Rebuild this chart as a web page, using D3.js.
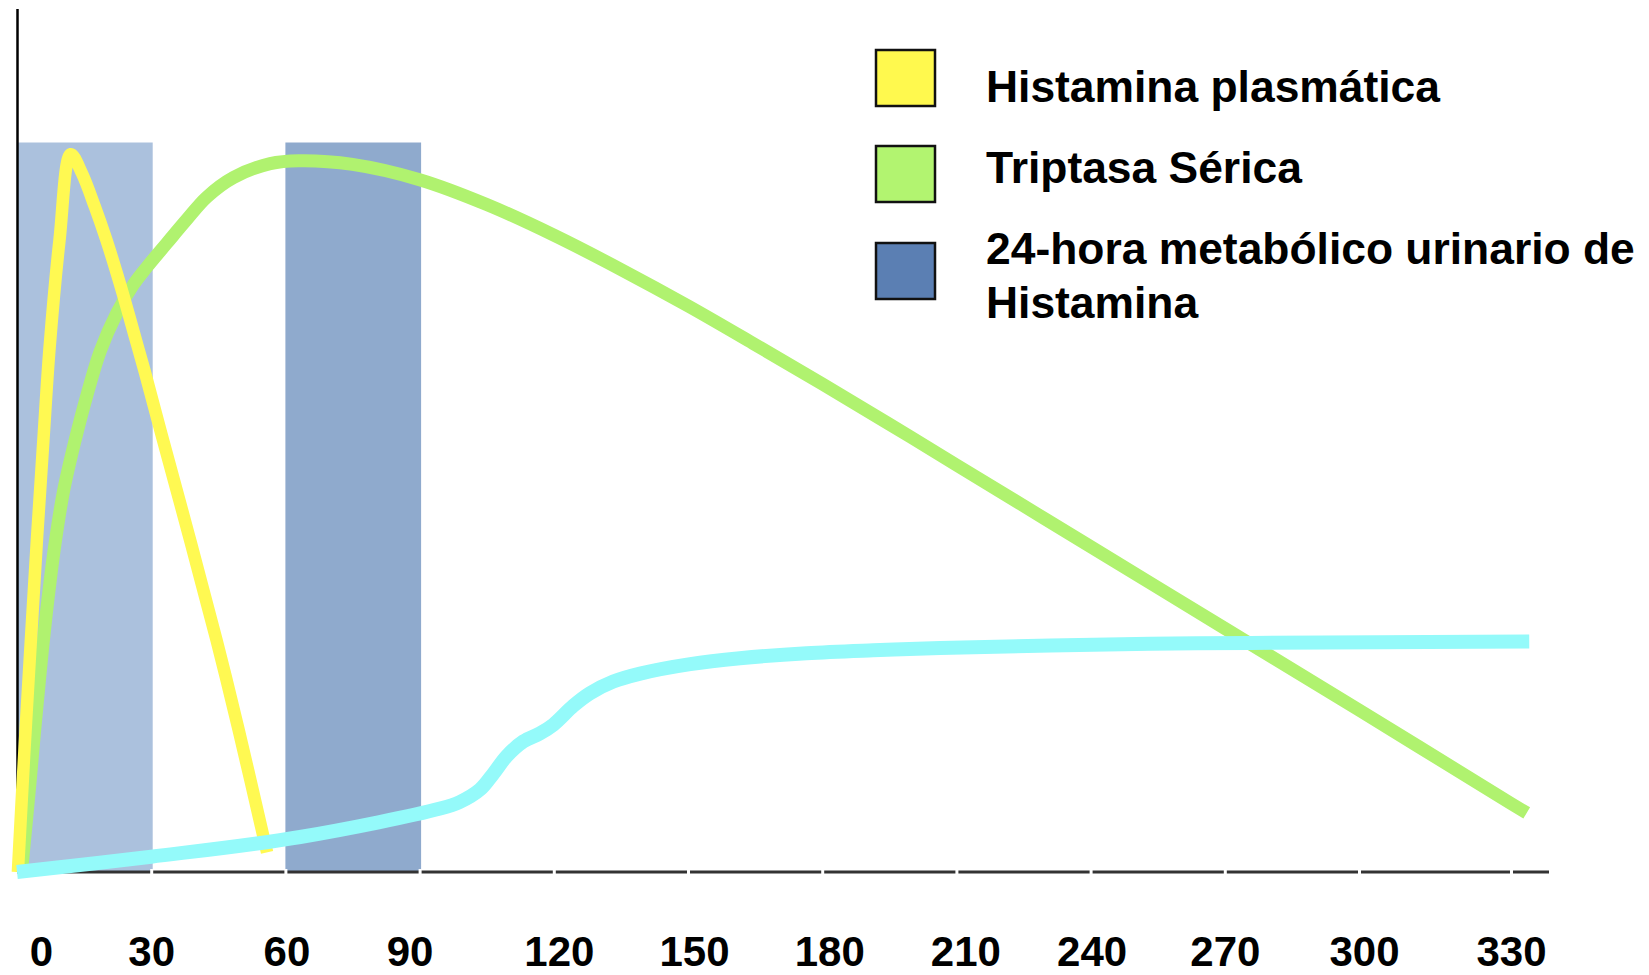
<!DOCTYPE html>
<html>
<head>
<meta charset="utf-8">
<script src="https://cdn.jsdelivr.net/npm/d3@7"></script>
<style>
  html, body { margin: 0; padding: 0; background: #fff; }
  svg { display: block; }
  text { font-family: "Liberation Sans", Arial, sans-serif; font-weight: bold; fill: #000; }
</style>
</head>
<body>
<svg id="chart" width="1649" height="975"></svg>
<script>
// ---- data ----
const xTicks = [0, 30, 60, 90, 120, 150, 180, 210, 240, 270, 300, 330];
const xTickLabels = ["0", "30", "60", "90", "120", "150", "180", "210", "240", "270", "300", "330"];

// shaded windows (time from, time to, level top)
const bandStart = [0, 60];
const bandEnd = [30, 90];
const bandTop = [100, 100];

// Histamina plasmática
const histX = [0.2, 1.6, 3.1, 4.5, 5.9, 7.3, 9.5, 12.0, 14.5, 17.4, 19.9, 22.3, 24.4, 26.4, 28.6, 32.3, 38.7, 44.6, 49.5, 55.9];
const histY = [0, 16, 31.8, 46, 59.2, 72, 86.6, 98.4, 95.8, 91.2, 86.8, 82.1, 77.7, 73.3, 68.5, 60.0, 45.5, 31.8, 19.6, 2.7];

// Triptasa Sérica
const tripX = [1, 2.9, 3.9, 4.8, 5.7, 7.0, 8.5, 10.4, 13.0, 15.6, 18.6, 22.3, 26.0, 29.0, 33.5, 37.9, 42.4, 48.4, 56.6, 63, 75, 90, 105, 120, 135, 150, 165, 180, 195, 210, 240, 270, 300, 330, 333.1];
const tripY = [0, 12.2, 19.1, 24.9, 30.6, 37.8, 45.0, 52.2, 59.2, 65.3, 71.4, 76.6, 80.5, 82.9, 86.2, 89.4, 92.5, 95.2, 97.1, 97.5, 97.0, 94.9, 91.5, 87.3, 82.6, 77.6, 72.3, 66.9, 61.4, 55.8, 44.6, 33.4, 22.2, 9.4, 8.1];

// 24-hora metabólico urinario de Histamina
const metaX = [0, 30, 63.3, 94.6, 99.0, 103.5, 106.5, 109.5, 113.2, 116.9, 119.9, 124.4, 128.1, 133.3, 139.3, 150.5, 161.6, 176.5, 191.4, 206.4, 253.3, 275.7, 333.6];
const metaY = [0, 2.1, 4.8, 8.7, 9.6, 11.3, 13.5, 15.9, 17.9, 19.0, 20.2, 22.8, 24.5, 26.1, 27.2, 28.5, 29.3, 30.0, 30.4, 30.7, 31.3, 31.4, 31.6];

const legendLabels = [["Histamina plasmática"], ["Triptasa Sérica"], ["24-hora metabólico urinario de", "Histamina"]];

// ---- drawing ----
const svg = d3.select("#chart");
const x = d3.scaleLinear().domain([0, 300, 330]).range([17, 1359, 1511]);
const y = d3.scaleLinear().domain([0, 100]).range([872, 142.5]);

const bandColors = ["#abc1dd", "#8faacd"];
svg.append("g").selectAll("rect")
  .data(bandStart.map((s, i) => ({ s, e: bandEnd[i], t: bandTop[i], c: bandColors[i] })))
  .join("rect")
  .attr("x", d => x(d.s))
  .attr("width", d => x(d.e) - x(d.s) + 1.5)
  .attr("y", d => y(d.t))
  .attr("height", d => y(0) - y(d.t))
  .attr("fill", d => d.c);

// y axis line
svg.append("line")
  .attr("x1", 17.5).attr("x2", 17.5)
  .attr("y1", 9).attr("y2", y(0))
  .attr("stroke", "#000").attr("stroke-width", 2.5);

// x axis line
svg.append("line")
  .attr("x1", 17).attr("x2", 1549)
  .attr("y1", y(0)).attr("y2", y(0))
  .attr("stroke", "#333").attr("stroke-width", 3);

// small label nudges as in the original layout (px)
const labelNudge = { 0: 24, 30: 0, 60: 1, 90: -10, 120: 5, 150: 6, 180: 7, 210: 9, 240: 1, 270: 0, 300: 5, 330: 0 };

const xAxis = d3.axisBottom(x)
  .tickValues(xTicks)
  .tickFormat((d, i) => xTickLabels[i])
  .tickSizeOuter(0);
const gx = svg.append("g").attr("transform", `translate(0,${y(0)})`).call(xAxis);
gx.select(".domain").remove();
gx.selectAll(".tick line")
  .attr("y1", -3).attr("y2", 3)
  .attr("stroke", "#fff").attr("stroke-width", 3)
  .attr("opacity", d => d === 0 ? 0 : 1);
gx.selectAll(".tick text")
  .attr("y", 94).attr("dy", 0)
  .attr("dx", d => labelNudge[d] || 0)
  .attr("font-size", 42)
  .attr("font-family", "Liberation Sans, Arial, sans-serif")
  .attr("font-weight", "bold")
  .attr("fill", "#000");

const line = d3.line().x(d => x(d[0])).y(d => y(d[1])).curve(d3.curveCatmullRom.alpha(0.5));
const series = [
  { xs: tripX, ys: tripY, color: "#b0f26f", w: 13 },
  { xs: histX, ys: histY, color: "#fff952", w: 12.5 },
  { xs: metaX, ys: metaY, color: "#94fafa", w: 14 }
];
series.forEach(s => {
  svg.append("path")
    .datum(s.xs.map((v, i) => [v, s.ys[i]]))
    .attr("d", line)
    .attr("fill", "none")
    .attr("stroke", s.color)
    .attr("stroke-width", s.w)
    .attr("stroke-linejoin", "round")
    .attr("stroke-linecap", "butt");
});

// legend
const legendColors = ["#fff94e", "#b2f470", "#5b7fb3"];
const boxTop = [50, 146, 243];
const textBase = [102, 183, 264];
const lg = svg.append("g");
legendLabels.forEach((lines, i) => {
  lg.append("rect")
    .attr("x", 876).attr("y", boxTop[i])
    .attr("width", 59).attr("height", 56)
    .attr("fill", legendColors[i])
    .attr("stroke", "#111").attr("stroke-width", 2.5);
  lines.forEach((t, j) => {
    lg.append("text")
      .attr("x", 986).attr("y", textBase[i] + j * 54)
      .attr("font-size", 44.4)
      .text(t);
  });
});
</script>
</body>
</html>
